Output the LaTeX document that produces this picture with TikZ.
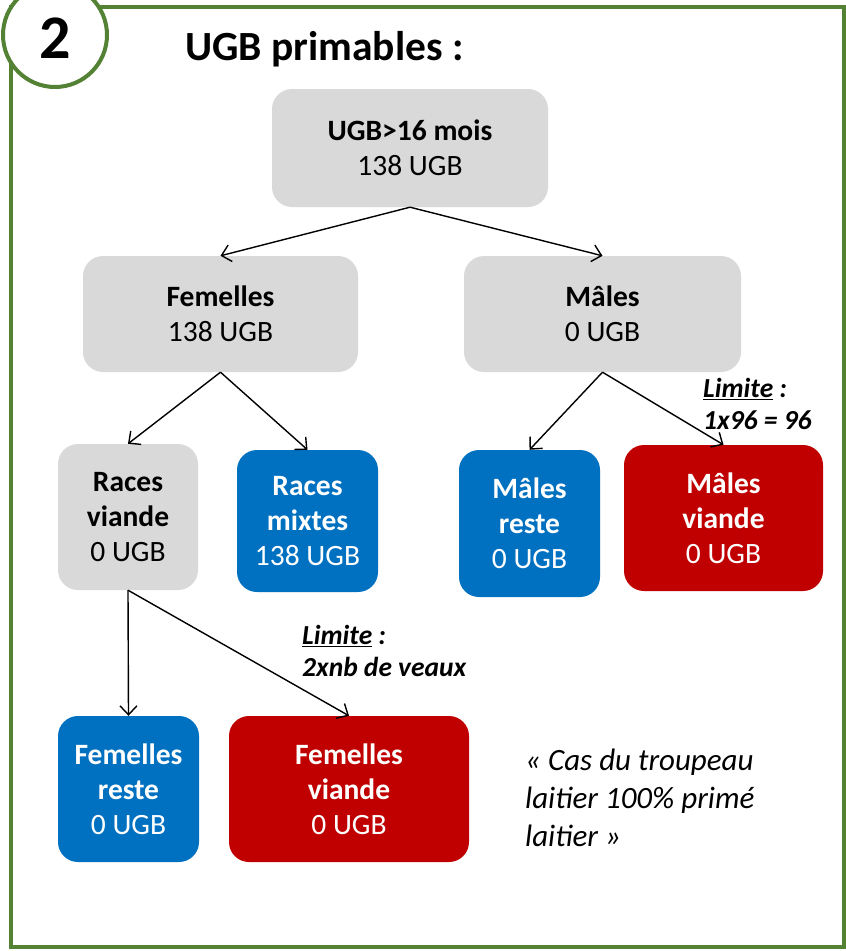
\documentclass[tikz,border=0pt]{standalone}
\usepackage{fontspec}
\setmainfont{Carlito}
\usepackage{xcolor}
\usetikzlibrary{arrows.meta, positioning}

\definecolor{cadre}{HTML}{548235}
\definecolor{gris}{HTML}{D9D9D9}
\definecolor{bleu}{HTML}{0070C0}
\definecolor{rouge}{HTML}{C00000}

\begin{document}
\begin{tikzpicture}[
   x=1pt, y=-1pt,
   box/.style = {rectangle, rounded corners=20pt, inner sep=0pt, align=center, font=\fontsize{29.5}{35}\selectfont},
   grisbox/.style = {box, fill=gris, text=black},
   bleubox/.style = {box, fill=bleu, text=white},
   rougebox/.style = {box, fill=rouge, text=white},
   limite/.style = {align=left, inner sep=0pt, font=\fontsize{27.5}{32}\selectfont\bfseries\itshape},
   line/.style = {draw, line width=1.4pt, -{Straight Barb[length=9pt, width=17pt, line width=1.4pt]}}
   ]
  \useasboundingbox (0,0) rectangle (846,951);

  % Frame and number
  \draw[cadre, line width=4pt] (11,7) rectangle (843.5,947);
  \node[circle, draw=cadre, fill=white, line width=4pt, minimum size=104pt, inner sep=0pt] (rond) at (55,35) {};
  \node[anchor=base, inner sep=0pt, font=\fontsize{62}{62}\selectfont\bfseries] (num) at (55,58) {2};
  \node[anchor=base west, inner sep=0pt, font=\fontsize{41.5}{41.5}\selectfont\bfseries] (titre) at (185,60) {UGB primables :};

  % Top level
  \node[grisbox, minimum width=276pt, minimum height=118pt] (ugb) at (410,148)
   {\textbf{UGB>16 mois}\\ 138 UGB};

  % Second level
  \node[grisbox, minimum width=275pt, minimum height=116pt] (femelles) at (220.5,314)
   {\textbf{Femelles}\\ 138 UGB};
  \node[grisbox, minimum width=277pt, minimum height=116pt] (males) at (602.5,314)
   {\textbf{Mâles}\\ 0 UGB};

  % Third level
  \node[grisbox, minimum width=140pt, minimum height=146pt] (racesviande) at (128,517)
   {\textbf{Races}\\ \textbf{viande}\\ 0 UGB};
  \node[bleubox, minimum width=141pt, minimum height=142pt] (racesmixtes) at (307.5,521)
   {\textbf{Races}\\ \textbf{mixtes}\\ 138 UGB};
  \node[bleubox, minimum width=141pt, minimum height=147pt] (malesreste) at (529.5,523.5)
   {\textbf{Mâles}\\ \textbf{reste}\\ 0 UGB};
  \node[rougebox, minimum width=199pt, minimum height=146pt] (malesviande) at (723.5,518)
   {\textbf{Mâles}\\ \textbf{viande}\\ 0 UGB};

  % Fourth level
  \node[bleubox, minimum width=141pt, minimum height=146pt] (femellesreste) at (128.5,789)
   {\textbf{Femelles}\\ \textbf{reste}\\ 0 UGB};
  \node[rougebox, minimum width=240pt, minimum height=146pt] (femellesviande) at (349,789)
   {\textbf{Femelles}\\ \textbf{viande}\\ 0 UGB};

  % Limits and note
  \node[limite, anchor=west] (limmales) at (703,404)
   {\underline{Limite} :\\ 1x96 = 96};
  \node[limite, anchor=west] (limfemelles) at (302,651)
   {\underline{Limite} :\\ 2xnb de veaux};
  \node[align=left, anchor=west, inner sep=0pt, font=\fontsize{31}{38}\selectfont\itshape] (note) at (525,798)
   {« Cas du troupeau\\ laitier 100\% primé\\ laitier »};

  % Arrows
  \draw[line] (ugb.south) -- (femelles.north);
  \draw[line] (ugb.south) -- (males.north);
  \draw[line] (femelles.south) -- (racesviande.north);
  \draw[line] (femelles.south) -- (racesmixtes.north);
  \draw[line] (males.south) -- (malesreste.north);
  \draw[line] (males.south) -- (malesviande.north);
  \draw[line] (racesviande.south) -- (femellesreste.north);
  \draw[line] (racesviande.south) -- (femellesviande.north);
\end{tikzpicture}
\end{document}
